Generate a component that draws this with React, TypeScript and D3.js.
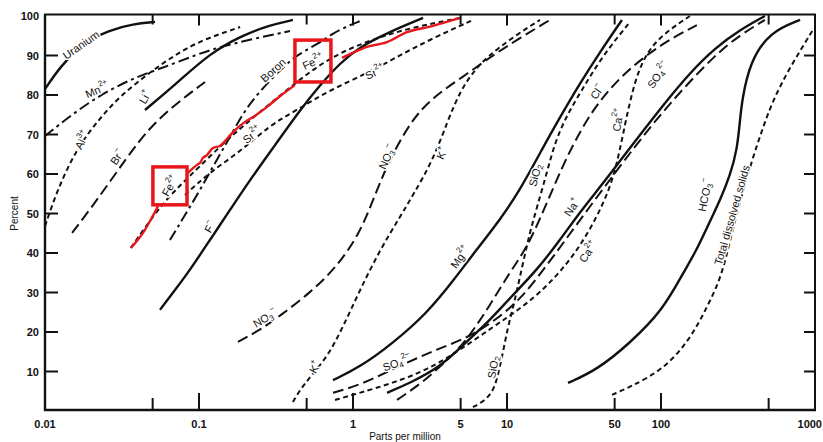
import React from 'react';
import * as d3 from 'd3';

type Pt = [number, number];

// ---- data (ppm, percent) ----
const uranium: Pt[] = [[0.01,81.5],[0.0125,87.1],[0.0177,93.2],[0.0264,96.5],[0.0373,98.0],[0.0518,98.5]];
const manganese: Pt[] = [[0.01,69.6],[0.0196,78.7],[0.0373,84.3],[0.0558,86.6],[0.0914,89.9],[0.137,92.2],[0.224,94.2],[0.39,96.2]];
const aluminium: Pt[] = [[0.01,46.8],[0.012,55.9],[0.0161,66.6],[0.0228,74.2],[0.0307,79.7],[0.0481,85.8],[0.0698,90.1],[0.101,93.7],[0.185,97.2]];
const lithium: Pt[] = [[0.0446,76.2],[0.0719,83.0],[0.1178,90.6],[0.1932,95.2],[0.2891,97.7],[0.4074,99.0]];
const bromide: Pt[] = [[0.015,45.1],[0.0218,53.4],[0.0341,64.3],[0.0481,71.9],[0.0719,78.0],[0.1094,83.3]];
const iron: Pt[] = [[0.0361,41.3],[0.0518,50.1],[0.0698,55.9],[0.1015,62.0],[0.159,69.4],[0.2489,75.7],[0.4198,83.0],[0.7096,89.6],[1.288,93.9],[2.344,97.0],[4.95,99.5]];
const boron: Pt[] = [[0.0648,43.3],[0.0811,49.6],[0.1015,55.9],[0.127,62.8],[0.159,69.4],[0.1932,75.4],[0.2415,80.5],[0.3614,87.6],[0.4529,90.6],[0.611,93.2],[0.7413,95.7],[0.957,97.7],[1.109,98.7]];
const strontium: Pt[] = [[0.0811,54.7],[0.1178,60.5],[0.1846,65.6],[0.2891,72.4],[0.4325,76.2],[0.7096,81.3],[1.288,85.8],[2.018,90.1],[3.307,94.4],[6.01,99.0]];
const fluoride: Pt[] = [[0.0558,25.6],[0.0698,30.6],[0.0874,35.7],[0.1178,43.3],[0.159,50.9],[0.2143,58.5],[0.3116,67.3],[0.4529,76.2],[0.611,82.5],[0.824,88.1],[1.109,92.2],[1.663,95.7],[2.851,99.5]];
const nitrate: Pt[] = [[0.179,17.5],[0.2489,20.5],[0.3357,24.1],[0.526,29.9],[0.787,36.5],[1.109,45.1],[1.349,53.4],[1.663,62.3],[2.344,73.2],[3.307,79.5],[5.18,84.6],[8.11,90.1],[12.13,94.4],[19.0,99.0]];
const potassium: Pt[] = [[0.4074,2.3],[0.473,6.6],[0.678,13.4],[0.861,21.3],[1.109,30.6],[1.496,40.8],[2.018,49.1],[2.455,54.7],[3.307,63.5],[4.14,73.7],[4.95,80.8],[6.01,85.8],[7.41,89.6],[10.94,94.7],[16.37,99.0]];
const magnesium: Pt[] = [[0.7413,7.8],[1.109,11.1],[1.82,17.2],[3.027,24.8],[4.457,32.9],[6.19,40.3],[9.01,48.4],[12.13,55.9],[16.37,65.3],[22.1,74.4],[29.8,83.0],[40.2,90.9],[55.8,99.0]];
const silica: Pt[] = [[6.01,1.0],[6.98,2.3],[7.99,4.6],[8.61,7.8],[9.42,14.9],[10.14,21.3],[10.94,26.1],[11.61,30.6],[12.71,37.5],[14.09,45.3],[15.66,51.6],[18.2,60.5],[20.5,68.1],[24.5,74.9],[29.8,80.5],[42.0,90.1],[63.0,98.5]];
const sulfate: Pt[] = [[0.7413,4.6],[1.109,6.6],[1.663,9.9],[2.606,13.4],[3.673,15.9],[5.5,18.5],[8.11,22.5],[12.13,28.1],[17.66,36.2],[29.8,48.4],[51.8,61.0],[84.9,71.9],[133,80.8],[224,90.1],[326,95.2],[473,99.0]];
const sodium: Pt[] = [[1.663,4.6],[2.344,7.1],[3.673,11.1],[5.33,17.2],[7.76,23.0],[10.45,28.6],[15.66,35.7],[22.1,43.3],[29.8,50.4],[40.2,56.7],[51.8,62.3],[73.1,69.9],[106,78.0],[154,85.6],[224,91.9],[326,96.5],[473,100]];
const chloride: Pt[] = [[1.932,2.8],[2.851,7.3],[3.954,12.4],[5.33,17.2],[7.76,26.8],[10.45,35.2],[13.49,41.3],[17.66,51.6],[22.1,60.5],[27.7,68.6],[38.4,78.0],[60.1,86.3],[103,93.2],[171,97.7]];
const calcium: Pt[] = [[0.764,2.8],[1.109,4.6],[1.82,7.1],[3.027,10.4],[4.95,15.4],[8.11,21.3],[12.13,25.8],[17.66,31.1],[23.8,36.7],[29.8,41.8],[38.4,49.1],[46.6,56.5],[51.8,62.8],[56.6,69.9],[63.0,78.7],[73.1,87.8],[94.2,94.4],[154,100]];
const bicarbonate: Pt[] = [[24.9,7.1],[38.4,10.4],[63.0,17.2],[103,25.6],[139,34.9],[171,40.8],[214,49.1],[242,53.4],[281,59.7],[312,66.1],[326,73.7],[336,78.7],[378,88.4],[510,96.0],[800,99.0]];
const dissolvedSolids: Pt[] = [[48.1,4.1],[63.0,6.1],[103,10.4],[154,18.0],[199,26.3],[242,33.2],[272,40.8],[303,48.4],[336,54.7],[390,63.5],[453,71.1],[533,78.7],[689,87.1],[971,96.5]];

// red annotation (hand-drawn trace) and boxes
const redTrace: Pt[][] = [
  [[0.0361,41.3],[0.039,42.8],[0.0433,45.1],[0.0481,48.1],[0.0518,50.4],[0.0542,51.9]],
  [[0.0848,60.3],[0.097,62.3],[0.1015,62.8],[0.1062,64.1],[0.1127,64.8],[0.1233,66.6],[0.1368,67.1],[0.1497,68.6],[0.1662,70.6],[0.199,73.2],[0.2244,74.4],[0.2767,77.0],[0.3357,79.7],[0.4198,82.5]],
  [[0.849,89.4],[0.986,90.6],[1.233,92.2],[1.663,93.4],[2.243,95.9],[3.307,97.5],[4.95,99.5]],
];
const redBoxes: [number, number, number, number][] = [
  [0.0502, 0.0836, 52.2, 61.8],
  [0.4198, 0.719, 83.3, 93.9],
];

const xTickMajor = [0.1, 1, 10, 100];
const xTickMinor = [0.05, 0.5, 5, 50, 500];
const xTickLabels: [number, string][] = [[0.01,'0.01'],[0.1,'0.1'],[1,'1'],[5,'5'],[10,'10'],[50,'50'],[100,'100'],[1000,'1000']];
const yTicks = [10,20,30,40,50,60,70,80,90,100];

type Style = 'solid' | 'short' | 'long' | 'dashdot';
const curves: { data: Pt[]; style: Style }[] = [
  { data: uranium, style: 'solid' },
  { data: manganese, style: 'dashdot' },
  { data: aluminium, style: 'short' },
  { data: lithium, style: 'solid' },
  { data: bromide, style: 'long' },
  { data: iron, style: 'short' },
  { data: boron, style: 'dashdot' },
  { data: strontium, style: 'short' },
  { data: fluoride, style: 'solid' },
  { data: nitrate, style: 'long' },
  { data: potassium, style: 'short' },
  { data: magnesium, style: 'solid' },
  { data: silica, style: 'short' },
  { data: sulfate, style: 'long' },
  { data: sodium, style: 'solid' },
  { data: chloride, style: 'long' },
  { data: calcium, style: 'short' },
  { data: bicarbonate, style: 'solid' },
  { data: dissolvedSolids, style: 'short' },
];

type Part = [string, 'n' | 'sup' | 'sub'];
const labels: { at: Pt; rot: number; parts: Part[] }[] = [
  { at: [0.0171, 92.7], rot: -35, parts: [['Uranium','n']] },
  { at: [0.0218, 81.3], rot: -22, parts: [['Mn','n'],['2+','sup']] },
  { at: [0.0174, 68.6], rot: -62, parts: [['Al','n'],['3+','sup']] },
  { at: [0.0294, 64.3], rot: -55, parts: [['Br','n'],['−','sup']] },
  { at: [0.0446, 79.5], rot: -60, parts: [['Li','n'],['+','sup']] },
  { at: [0.0648, 57.0], rot: -60, parts: [['Fe','n'],['2+','sup']] },
  { at: [0.55, 88.4], rot: -25, parts: [['Fe','n'],['2+','sup']] },
  { at: [0.302, 86.3], rot: -42, parts: [['Boron','n']] },
  { at: [0.2208, 69.9], rot: -38, parts: [['Sr','n'],['2+','sup']] },
  { at: [1.39, 85.8], rot: -25, parts: [['Sr','n'],['2+','sup']] },
  { at: [0.1178, 46.6], rot: -60, parts: [['F','n'],['−','sup']] },
  { at: [0.2685, 23.5], rot: -30, parts: [['NO','n'],['3','sub'],['−','sup']] },
  { at: [1.663, 64.3], rot: -65, parts: [['NO','n'],['3','sub'],['−','sup']] },
  { at: [0.566, 11.1], rot: -60, parts: [['K','n'],['+','sup']] },
  { at: [3.78, 65.3], rot: -65, parts: [['K','n'],['+','sup']] },
  { at: [4.95, 39.0], rot: -55, parts: [['Mg','n'],['2+','sup']] },
  { at: [1.932, 12.2], rot: -20, parts: [['SO','n'],['4','sub'],['2−','sup']] },
  { at: [8.11, 11.1], rot: -80, parts: [['SiO','n'],['2','sub']] },
  { at: [15.2, 59.7], rot: -75, parts: [['SiO','n'],['2','sub']] },
  { at: [26.4, 51.6], rot: -55, parts: [['Na','n'],['+','sup']] },
  { at: [33.6, 40.3], rot: -55, parts: [['Ca','n'],['2+','sup']] },
  { at: [52.6, 73.7], rot: -80, parts: [['Ca','n'],['2+','sup']] },
  { at: [38.4, 80.8], rot: -55, parts: [['Cl','n'],['−','sup']] },
  { at: [95.7, 85.1], rot: -55, parts: [['SO','n'],['4','sub'],['2−','sup']] },
  { at: [193, 54.7], rot: -78, parts: [['HCO','n'],['3','sub'],['−','sup']] },
  { at: [289, 49.6], rot: -74, parts: [['Total dissolved solids','n']] },
];

const W = 823, H = 442;
const FONT = '"Liberation Sans", Arial, Helvetica, sans-serif';

export default function App() {
  const x = d3.scaleLog().domain([0.01, 1000]).range([45, 815]);
  const y = d3.scaleLinear().domain([0, 100]).range([411, 16]);
  const smooth = d3.line<Pt>().x(d => x(d[0])).y(d => y(d[1])).curve(d3.curveBasis);
  const hand = d3.line<Pt>().x(d => x(d[0])).y(d => y(d[1])).curve(d3.curveCatmullRom.alpha(0.5));

  const dash: Record<Style, string | undefined> = {
    solid: undefined, short: '5,3.5', long: '11,5', dashdot: '11,4,3,4',
  };
  const width: Record<Style, number> = { solid: 2.4, short: 2, long: 2, dashdot: 2 };

  const left = x(0.01), right = x(1000), bottom = y(0) - 1, top = y(100) - 1.5;

  const renderParts = (parts: Part[]) => {
    let off = 0;
    return parts.map(([t, k], i) => {
      const target = k === 'sup' ? -5 : k === 'sub' ? 3 : 0;
      const dy = target - off;
      off = target;
      return (
        <tspan key={i} dy={dy} fontSize={k === 'n' ? 11 : 8}>{t}</tspan>
      );
    });
  };

  return (
    <svg width={W} height={H} style={{ position: 'absolute', left: 0, top: 0, background: '#fff' }} fontFamily={FONT}>
      <rect x={0} y={0} width={W} height={H} fill="#fff" />
      {/* curves */}
      {curves.map((c, i) => (
        <path key={i} d={smooth(c.data) || ''} fill="none" stroke="#111" strokeWidth={width[c.style]}
          strokeDasharray={dash[c.style]} strokeLinecap="butt" />
      ))}
      {/* labels */}
      {labels.map((l, i) => (
        <text key={i} transform={`translate(${x(l.at[0])},${y(l.at[1])}) rotate(${l.rot})`}
          textAnchor="middle" dominantBaseline="central" fontSize={11} fill="#111"
          stroke="#fff" strokeWidth={3} paintOrder="stroke" strokeLinejoin="round">
          {renderParts(l.parts)}
        </text>
      ))}
      {/* red annotation */}
      {redTrace.map((seg, i) => (
        <path key={i} d={hand(seg) || ''} fill="none" stroke="#e8161b" strokeWidth={2.4} strokeLinejoin="round" />
      ))}
      {redBoxes.map(([x0, x1, y0, y1], i) => (
        <rect key={i} x={x(x0)} y={y(y1)} width={x(x1) - x(x0)} height={y(y0) - y(y1)}
          fill="none" stroke="#e8161b" strokeWidth={3.5} />
      ))}
      {/* frame */}
      <line x1={left} x2={left} y1={top} y2={bottom + 1} stroke="#111" strokeWidth={2.4} />
      <line x1={left - 1} x2={right + 1} y1={bottom} y2={bottom} stroke="#111" strokeWidth={2.4} />
      <line x1={left - 1} x2={right + 1} y1={top} y2={top} stroke="#111" strokeWidth={2} />
      <line x1={right} x2={right} y1={top} y2={bottom} stroke="#111" strokeWidth={2} />
      {/* y ticks */}
      {yTicks.map(t => (
        <g key={t}>
          {t < 100 && <line x1={left} x2={left + 13} y1={y(t)} y2={y(t)} stroke="#111" strokeWidth={2} />}
          {t < 100 && <line x1={right - 11} x2={right} y1={y(t)} y2={y(t)} stroke="#111" strokeWidth={2} />}
          <text x={left - 6} y={y(t)} textAnchor="end" dominantBaseline="central" fontSize={11} fontWeight="bold" fill="#111">{t}</text>
        </g>
      ))}
      {/* x ticks */}
      {xTickMajor.map(t => (
        <g key={'M' + t}>
          <line x1={x(t)} x2={x(t)} y1={bottom} y2={bottom - 17} stroke="#111" strokeWidth={2} />
          <line x1={x(t)} x2={x(t)} y1={top} y2={top + 11} stroke="#111" strokeWidth={2} />
        </g>
      ))}
      {xTickMinor.map(t => (
        <g key={'m' + t}>
          <line x1={x(t)} x2={x(t)} y1={bottom} y2={bottom - 12} stroke="#111" strokeWidth={2} />
          <line x1={x(t)} x2={x(t)} y1={top} y2={top + 10} stroke="#111" strokeWidth={2} />
        </g>
      ))}
      {xTickLabels.map(([v, s], i) => {
        const last = i === xTickLabels.length - 1;
        return (
          <text key={s} x={last ? W - 1 : x(v)} y={424} textAnchor={last ? 'end' : 'middle'} dominantBaseline="central"
            fontSize={11} fontWeight="bold" fill="#111">{s}</text>
        );
      })}
      <text x={405} y={436} textAnchor="middle" dominantBaseline="central" fontSize={10} fill="#111">Parts per million</text>
      <text transform={`translate(14,${y(50)}) rotate(-90)`} textAnchor="middle" dominantBaseline="central" fontSize={10} fill="#111">Percent</text>
    </svg>
  );
}
